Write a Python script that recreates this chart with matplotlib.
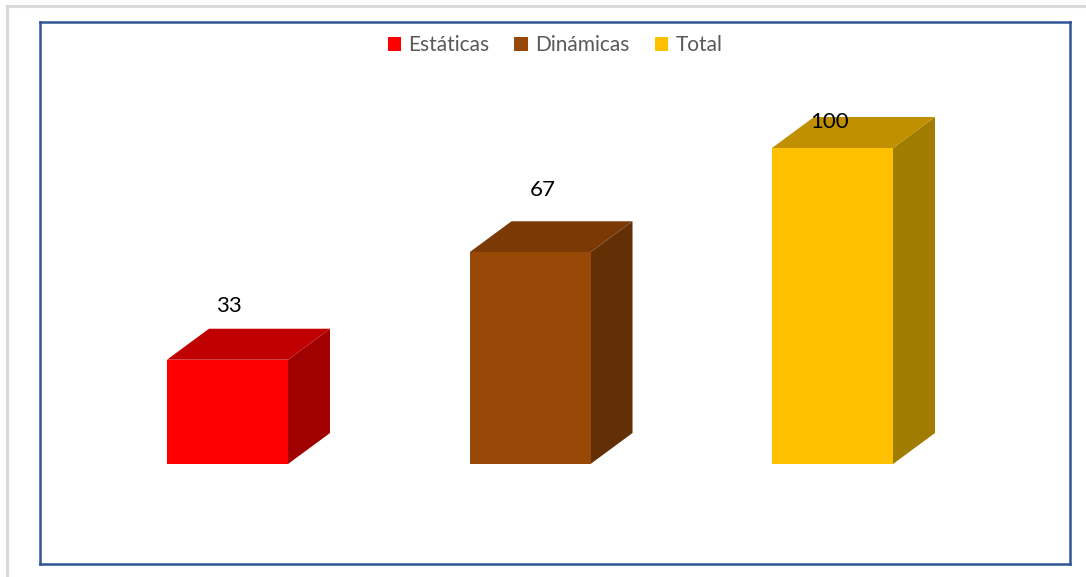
import matplotlib
matplotlib.use("Agg")
import matplotlib.pyplot as plt
from matplotlib.patches import Polygon, Rectangle, Patch

categories = ["Estáticas", "Dinámicas", "Total"]
values = [33, 67, 100]

front_colors = ["#FF0000", "#984807", "#FFC000"]
top_colors = ["#C00000", "#7A3905", "#C09000"]
side_colors = ["#A00000", "#632F04", "#A07C00"]

# label offsets (style): in x category units and y value units
label_dx = [0.005, 0.043, -0.01]
label_dy = [17.0, 19.6, 8.2]

W, H = 1086, 577
fig = plt.figure(figsize=(W / 100, H / 100), dpi=100)
plt.rcParams['font.family'] = ['Lato', 'DejaVu Sans']

# outer light-gray frame (right and bottom edges fall outside the image)
fig.patches.append(Rectangle((7 / W, -20 / H), (W + 20) / W, (H - 6 + 20) / H, transform=fig.transFigure,
                             fill=False, edgecolor="#D9D9D9", linewidth=2.2, zorder=0))

ax_l, ax_r, ax_t, ax_b = 40, 1070, 22, 564
ax = fig.add_axes([ax_l / W, 1 - ax_b / H, (ax_r - ax_l) / W, (ax_b - ax_t) / H])

px_per_unit = 3.16
base_px = 464
x0_px = 227.5
x_step = 302.5
ax.set_ylim(-(ax_b - base_px) / px_per_unit, (base_px - ax_t) / px_per_unit)
ax.set_xlim((ax_l - x0_px) / x_step, (ax_r - x0_px) / x_step)

bw = 121 / x_step
dx = 42 / x_step
dy = 31 / px_per_unit

for i, (v, fc, tc, sc) in enumerate(zip(values, front_colors, top_colors, side_colors)):
    xl, xr = i - bw / 2, i + bw / 2
    ax.add_patch(Polygon([(xr, 0), (xr + dx, dy), (xr + dx, v + dy), (xr, v)],
                         closed=True, facecolor=sc, edgecolor="none"))
    ax.add_patch(Polygon([(xl, v), (xr, v), (xr + dx, v + dy), (xl + dx, v + dy)],
                         closed=True, facecolor=tc, edgecolor="none"))
    ax.add_patch(Rectangle((xl, 0), bw, v, facecolor=fc, edgecolor="none"))
    ax.text(i + label_dx[i], v + label_dy[i], str(v), ha="center", va="center",
            fontsize=16, color="#000000", zorder=5)

ax.set_xticks([])
ax.set_yticks([])
for s in ax.spines.values():
    s.set_color("#2F5597")
    s.set_linewidth(1.8)

handles = [Patch(facecolor=c, edgecolor="none", label=l) for c, l in zip(front_colors, categories)]
leg = fig.legend(handles=handles, loc="center", bbox_to_anchor=(555 / W, 1 - 45 / H), ncol=3,
                 frameon=False, fontsize=15, handlelength=0.65, handleheight=0.65,
                 handletextpad=0.35, columnspacing=1.2, borderpad=0)
for t in leg.get_texts():
    t.set_color("#595959")

fig.savefig("out.png", dpi=100)
